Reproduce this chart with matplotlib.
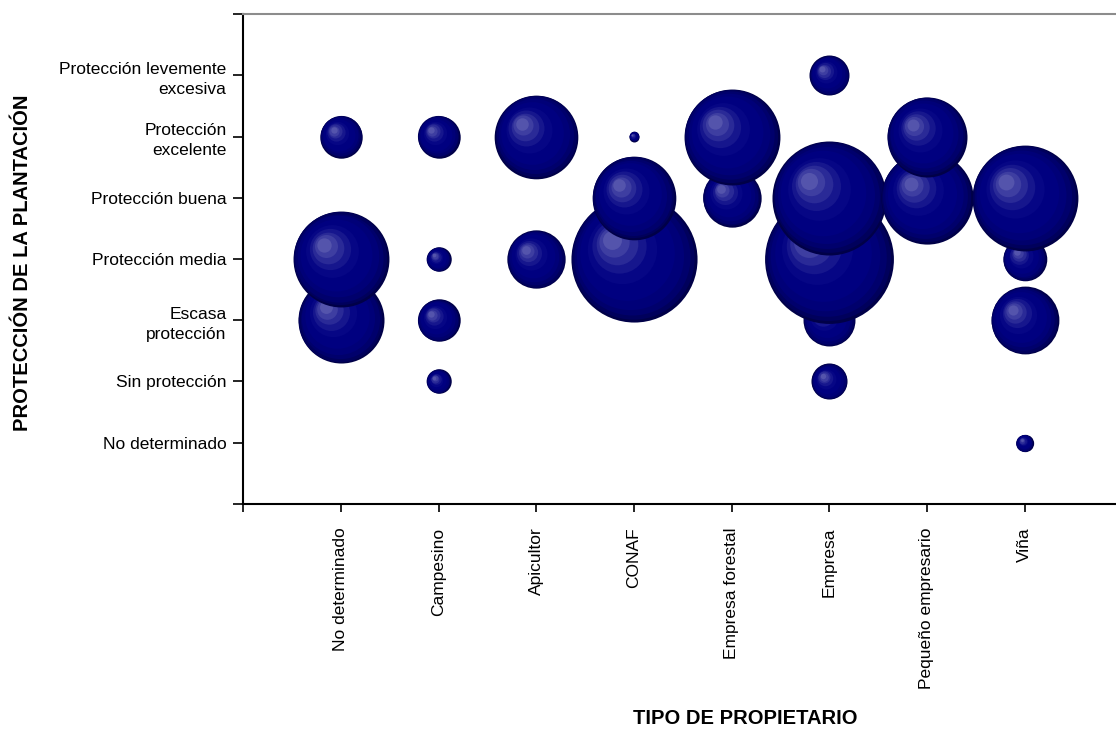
import matplotlib
matplotlib.use("Agg")
import matplotlib.pyplot as plt
import numpy as np

plt.rcParams['font.family'] = ['Liberation Sans', 'DejaVu Sans']

#---------------------------------------------------------------------------------------------------
# Datos
propietarios = ["No determinado", "Campesino", "Apicultor", "CONAF",
                "Empresa forestal", "Empresa", "Pequeño empresario", "Viña"]
niveles = ["No determinado", "Sin protección", "Escasa\nprotección", "Protección media",
           "Protección buena", "Protección\nexcelente", "Protección levemente\nexcesiva"]

# indice de propietario (1..8), nivel de proteccion (1..7), cantidad
prop_idx  = [1, 1, 1,   2, 2, 2, 2,   3, 3,   4, 4, 4,    5, 5,   6, 6, 6, 6, 6,      7, 7,   8, 8, 8, 8]
nivel_idx = [6, 4, 3,   6, 4, 3, 2,   6, 4,   6, 5, 4,    6, 5,   7, 5, 4, 3, 2,      6, 5,   5, 4, 3, 1]
valores   = [18, 92, 74, 18, 6, 18, 6, 70, 34, 1, 70, 159, 92, 34, 16, 130, 166, 27, 13, 64, 85, 112, 19, 46, 3]

#---------------------------------------------------------------------------------------------------
dpi = 100
fig = plt.figure(figsize=(11.16, 7.30), dpi=dpi)
ax = fig.add_axes([0.2180, 0.3096, 0.7876, 0.6712])
ax.set_xlim(0, 9)
ax.set_ylim(0, 8)

escala = 51.84  # pt^2 por unidad

# capas para el efecto de esfera (fraccion de radio, color)
capas = [(1.00, (0, 0, 72)), (0.97, (0, 0, 92)), (0.92, (0, 0, 108)), (0.85, (0, 0, 120)),
         (0.75, (0, 0, 128)), (0.55, (6, 6, 133)), (0.43, (22, 22, 141)),
         (0.33, (42, 42, 151)), (0.24, (62, 62, 161)), (0.15, (84, 84, 172))]

orden = np.argsort(np.array(nivel_idx), kind="stable")
z = 2
for i in orden:
    x, y, v = prop_idx[i], nivel_idx[i], valores[i]
    s = v * escala
    r_px = np.sqrt(s) / 2 * dpi / 72
    cx, cy = ax.transData.transform((x, y))
    for f, col in capas:
        k = (1 - f) / (1 - 0.15)
        px = cx - 0.35 * r_px * k
        py = cy + 0.30 * r_px * k
        dx, dy = ax.transData.inverted().transform((px, py))
        ax.scatter([dx], [dy], s=s * f * f, color=np.array(col) / 255,
                   linewidths=0, zorder=z)
        z += 1

#---------------------------------------------------------------------------------------------------
ax.set_yticks(range(0, 9))
ax.set_yticklabels([""] + niveles + [""], fontsize=12.5, ha="right",
                   multialignment="right", linespacing=1.45)
ax.set_xticks(range(0, 10))
ax.set_xticklabels([""] + propietarios + [""], fontsize=12.5, rotation=90, va="top")
ax.tick_params(axis="y", direction="out", length=7, width=1.2, pad=5)
ax.tick_params(axis="x", direction="out", length=6, width=1.2, pad=11)

for lado in ["left", "bottom"]:
    ax.spines[lado].set_color("black")
    ax.spines[lado].set_linewidth(1.5)
ax.spines["top"].set_color("#8c8c8c")
ax.spines["top"].set_linewidth(1.5)
ax.spines["right"].set_visible(False)

fig.text(0.6676, 0.003, "TIPO DE PROPIETARIO", fontsize=14.5, fontweight="bold",
         ha="center", va="bottom")
fig.text(0.020, 0.640, "PROTECCIÓN DE LA PLANTACIÓN", fontsize=14.5, fontweight="bold",
         rotation=90, ha="center", va="center")

fig.savefig("out.png", dpi=dpi)
